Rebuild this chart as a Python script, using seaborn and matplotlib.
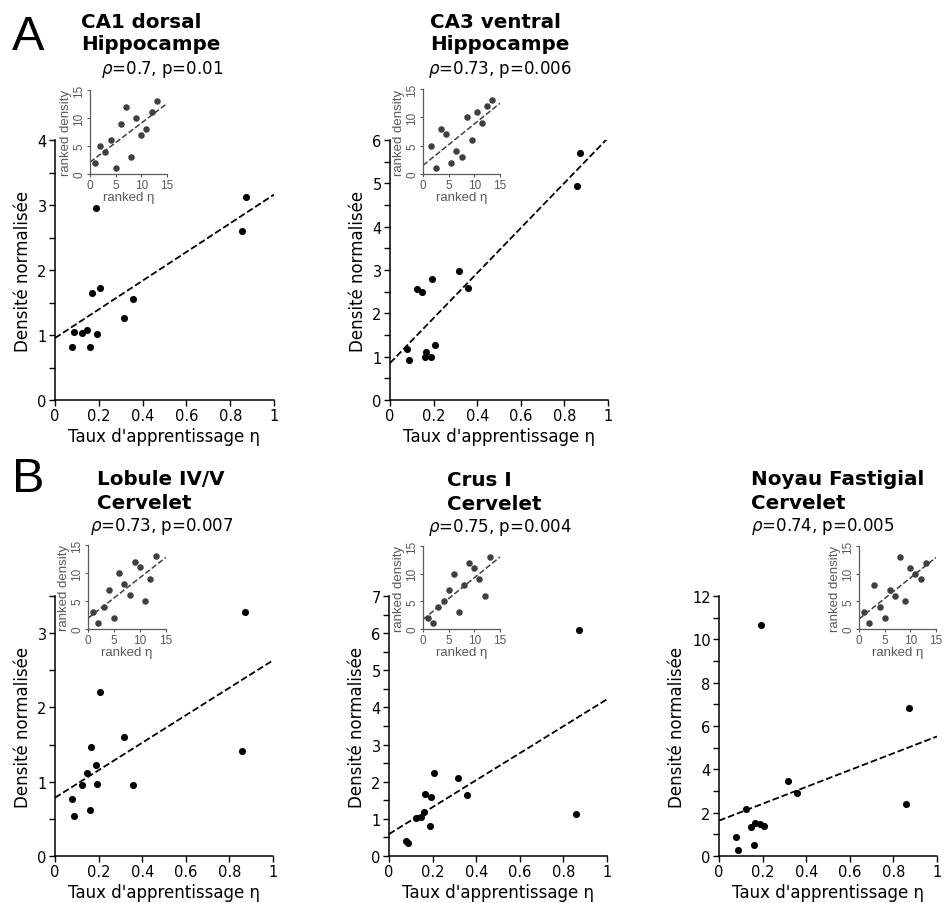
import numpy as np
import pandas as pd
import matplotlib
matplotlib.use("Agg")
import matplotlib.pyplot as plt
import seaborn as sns

# ---------------- data ----------------
eta = [0.077, 0.086, 0.122, 0.148, 0.161, 0.167, 0.188, 0.193, 0.205, 0.316, 0.357, 0.856, 0.871]

ca1_dorsal = [0.82, 1.04, 1.03, 1.08, 0.81, 1.64, 2.96, 1.02, 1.72, 1.26, 1.56, 2.60, 3.12]
ca3_ventral = [1.18, 0.93, 2.56, 2.49, 0.99, 1.10, 1.00, 2.80, 1.27, 2.97, 2.59, 4.95, 5.71]
lobule_45 = [0.77, 0.54, 0.95, 1.12, 0.62, 1.47, 1.22, 0.97, 2.21, 1.60, 0.96, 1.42, 3.28]
crus_1 = [0.41, 0.34, 1.01, 1.04, 1.18, 1.68, 0.82, 1.60, 2.24, 2.11, 1.63, 1.13, 6.08]
fastigial = [0.86, 0.28, 2.16, 1.33, 0.49, 1.51, 1.49, 10.66, 1.40, 3.46, 2.92, 2.41, 6.82]

rank_eta = [1, 2, 3, 4, 5, 6, 7, 8, 9, 10, 11, 12, 13]
rank_eta_ca3 = [1.5, 2.5, 3.5, 4.5, 5.5, 6.5, 7.5, 8.5, 9.5, 10.5, 11.5, 12.5, 13.5]
rank_ca1 = [2, 5, 4, 6, 1, 9, 12, 3, 10, 7, 8, 11, 13]
rank_ca3 = [5, 1, 8, 7, 2, 4, 3, 10, 6, 11, 9, 12, 13]
rank_lob = [3, 1, 4, 7, 2, 10, 8, 6, 12, 11, 5, 9, 13]
rank_crus = [2, 1, 4, 5, 7, 10, 3, 8, 12, 11, 9, 6, 13]
rank_fast = [3, 1, 8, 4, 2, 7, 6, 13, 5, 11, 10, 9, 12]

titles = [("CA1 dorsal", "Hippocampe"), ("CA3 ventral", "Hippocampe"),
          ("Lobule IV/V", "Cervelet"), ("Crus I", "Cervelet"),
          ("Noyau Fastigial", "Cervelet")]
stats = [r"$\rho$=0.7, p=0.01", r"$\rho$=0.73, p=0.006", r"$\rho$=0.73, p=0.007",
         r"$\rho$=0.75, p=0.004", r"$\rho$=0.74, p=0.005"]

x_ticks = [0, 0.2, 0.4, 0.6, 0.8, 1]
x_ticklabels = ["0", "0.2", "0.4", "0.6", "0.8", "1"]
inset_ticks = [0, 5, 10, 15]

# ---------------- style ----------------
sns.set_style("ticks")
plt.rcParams['font.family'] = ['DejaVu Sans']
plt.rcParams['mathtext.fontset'] = 'dejavusans'
plt.rcParams['text.color'] = 'black'
plt.rcParams['axes.labelcolor'] = 'black'
plt.rcParams['xtick.color'] = 'black'
plt.rcParams['ytick.color'] = 'black'
plt.rcParams['axes.edgecolor'] = 'black'

W, H = 944, 904
fig = plt.figure(figsize=(W / 100, H / 100), dpi=100)


def rect(l, t, r, b):
    return [l / W, 1 - b / H, (r - l) / W, (b - t) / H]


def ftext(x, y, s, **kw):
    fig.text(x / W, 1 - y / H, s, va="baseline", ha="left", color="black", **kw)


panels = [
    dict(y=ca1_dorsal, rect=rect(55, 141, 274, 401), ymax=4, step=0.5, lab=1,
         ix=rank_eta, iy=rank_ca1, irect=rect(90, 91, 167, 175),
         t=(81, 28, 50), s=(101, 74)),
    dict(y=ca3_ventral, rect=rect(390, 141, 608, 401), ymax=6, step=0.5, lab=1,
         ix=rank_eta_ca3, iy=rank_ca3, irect=rect(423, 90, 500, 175),
         t=(430, 28, 50), s=(428, 74)),
    dict(y=lobule_45, rect=rect(55, 597, 273, 857), ymax=3.5, step=0.5, lab=1,
         ix=rank_eta, iy=rank_lob, irect=rect(88, 546, 166, 630),
         t=(97, 485, 509), s=(90, 531)),
    dict(y=crus_1, rect=rect(389, 597, 607, 857), ymax=7, step=0.5, lab=1,
         ix=rank_eta, iy=rank_crus, irect=rect(423, 547, 500, 630),
         t=(447, 486, 510), s=(428, 532)),
    dict(y=fastigial, rect=rect(719, 597, 937, 857), ymax=12, step=1, lab=2,
         ix=rank_eta, iy=rank_fast, irect=rect(859, 547, 936, 630),
         t=(751, 485, 509), s=(751, 531)),
]

grey = "#5a5a5a"
dot_grey = "#404040"
lib = ["Liberation Sans", "DejaVu Sans"]

for i, p in enumerate(panels):
    ax = fig.add_axes(p["rect"])
    ax.set_xlim(0, 1)
    ax.set_ylim(0, p["ymax"])
    df = pd.DataFrame({"eta": eta, "dens": p["y"]})
    sns.regplot(data=df, x="eta", y="dens", ax=ax, ci=None, truncate=False,
                scatter_kws=dict(s=26, color="black", linewidths=0, alpha=1),
                line_kws=dict(color="black", lw=1.3, ls="--"))
    ax.set_xlim(0, 1)
    ax.set_ylim(0, p["ymax"])
    yt = np.arange(0, p["ymax"] + 1e-9, p["step"])
    ax.set_yticks(yt)
    ax.set_yticklabels([f"{t:g}" if abs(t / p["lab"] - round(t / p["lab"])) < 1e-6 else ""
                        for t in yt])
    ax.set_xticks(x_ticks)
    ax.set_xticklabels(x_ticklabels)
    ax.tick_params(labelsize=10.5, length=4, width=1, color="black",
                   labelcolor="black", pad=2)
    for sp in ["left", "bottom"]:
        ax.spines[sp].set_linewidth(1.1)
        ax.spines[sp].set_color("black")
    sns.despine(ax=ax)
    ax.set_xlabel("Taux d'apprentissage η", fontsize=12, labelpad=3, color="black")
    ax.set_ylabel("Densité normalisée", fontsize=12, labelpad=4, color="black")

    # inset
    ia = fig.add_axes(p["irect"])
    ia.set_xlim(0, 15)
    ia.set_ylim(0, 15)
    idf = pd.DataFrame({"rx": p["ix"], "ry": p["iy"]})
    sns.regplot(data=idf, x="rx", y="ry", ax=ia, ci=None, truncate=False,
                scatter_kws=dict(s=22, color=dot_grey, linewidths=0, alpha=1),
                line_kws=dict(color=dot_grey, lw=1.1, ls="--"))
    ia.set_xlim(0, 15)
    ia.set_ylim(0, 15)
    ia.set_xticks(inset_ticks)
    ia.set_yticks(inset_ticks)
    ia.tick_params(labelsize=8.5, length=2.5, width=0.8, color=grey, labelcolor=grey, pad=1)
    for lab in ia.get_yticklabels():
        lab.set_rotation(90)
        lab.set_va("center")
    for sp in ["left", "bottom"]:
        ia.spines[sp].set_linewidth(0.9)
        ia.spines[sp].set_color(grey)
    sns.despine(ax=ia)
    ia.set_xlabel("ranked η", fontsize=9.5, color=grey, labelpad=0, family=lib)
    ia.set_ylabel("ranked density", fontsize=9.5, color=grey, labelpad=1, family=lib)
    for lab in ia.get_xticklabels() + ia.get_yticklabels():
        lab.set_family(lib)

    tx, ty1, ty2 = p["t"]
    ftext(tx, ty1, titles[i][0], fontsize=14.3, fontweight="bold")
    ftext(tx, ty2, titles[i][1], fontsize=14.3, fontweight="bold")
    sx, sy = p["s"]
    ftext(sx, sy, stats[i], fontsize=12)

ftext(12, 50, "A", fontsize=35, family=lib)
ftext(12, 492, "B", fontsize=35, family=lib)

fig.savefig("out.png", dpi=100)
